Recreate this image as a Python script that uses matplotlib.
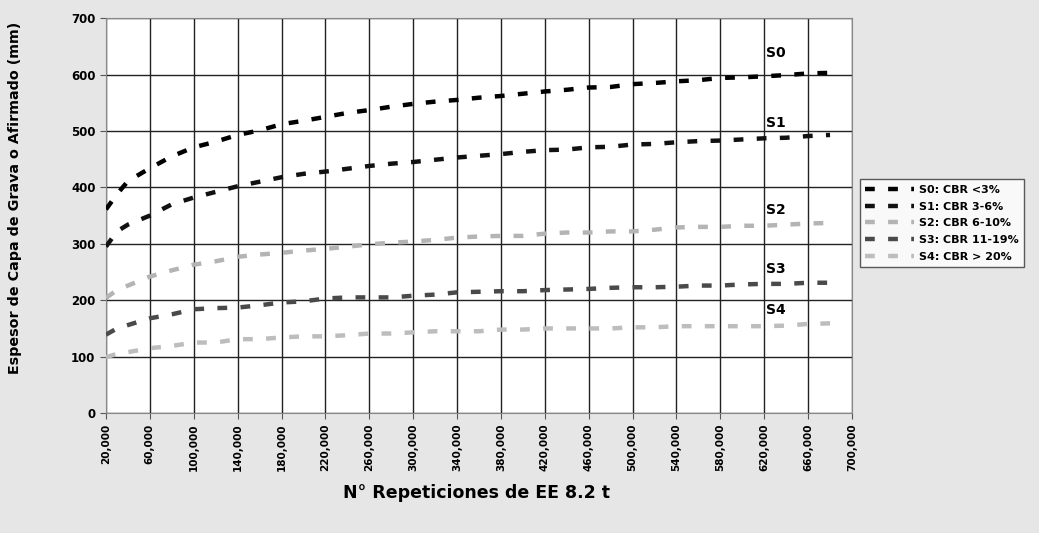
import numpy as np
import matplotlib.pyplot as plt
from matplotlib.ticker import FuncFormatter

# Number of EE 8.2 t repetitions
reps = [20000, 30000, 40000, 60000, 80000, 100000, 120000, 140000, 160000, 180000,
        200000, 220000, 240000, 260000, 280000, 300000, 320000, 340000, 360000,
        380000, 400000, 420000, 440000, 460000, 480000, 500000, 520000, 540000,
        560000, 580000, 600000, 620000, 640000, 660000, 680000]

# Gravel layer thickness (mm) per subgrade class
s0 = [361, 388, 411, 434, 455, 471, 481, 493, 501, 512, 518, 525, 532, 537, 543, 548, 552, 555,
      559, 562, 566, 570, 573, 577, 578, 583, 585, 588, 590, 594, 595, 597, 599, 602, 603]
s1 = [295, 322, 334, 350, 370, 382, 392, 402, 410, 418, 424, 428, 433, 438, 442, 445, 449, 453,
      456, 459, 463, 466, 467, 471, 472, 476, 477, 480, 482, 483, 485, 487, 488, 491, 493]
s2 = [204, 218, 226, 242, 253, 263, 269, 277, 281, 284, 288, 291, 295, 299, 302, 304, 307, 311,
      313, 314, 314, 318, 320, 320, 322, 322, 325, 329, 330, 330, 332, 332, 334, 336, 337]
s3 = [139, 150, 156, 168, 175, 184, 186, 187, 191, 196, 198, 203, 205, 205, 205, 208, 210, 214,
      215, 216, 216, 218, 219, 220, 222, 223, 223, 224, 226, 226, 228, 229, 229, 231, 231]
s4 = [99, 105, 108, 115, 119, 125, 125, 131, 131, 134, 136, 136, 138, 141, 141, 143, 145, 145,
      145, 148, 148, 150, 150, 150, 150, 152, 152, 154, 154, 154, 154, 154, 155, 158, 159]

series = [s0, s1, s2, s3, s4]
labels = ['S0: CBR <3%', 'S1: CBR 3-6%', 'S2: CBR 6-10%', 'S3: CBR 11-19%', 'S4: CBR > 20%']
colors = ['#000000', '#111111', '#b4b4b4', '#4a4a4a', '#bdbdbd']
tags = ['S0', 'S1', 'S2', 'S3', 'S4']
tag_y = [638, 515, 360, 256, 183]

xticks = list(range(20000, 700001, 40000))

fig = plt.figure(figsize=(10.39, 5.33), dpi=100, facecolor='#e6e6e6')
ax = fig.add_axes([0.102, 0.225, 0.718, 0.741])
ax.set_facecolor('white')

for vals, lab, col in zip(series, labels, colors):
    ax.plot(reps, vals, color=col, lw=3.2, dashes=(2.2, 3.0),
            dash_capstyle='butt', label=lab, zorder=3)

for t, ty in zip(tags, tag_y):
    ax.text(622000, ty, t, fontsize=10, fontweight='bold', ha='left', va='center')

ax.set_xlim(20000, 700000)
ax.set_ylim(0, 700)
ax.set_xticks(xticks)
ax.set_yticks(range(0, 701, 100))
ax.xaxis.set_major_formatter(FuncFormatter(lambda v, p: f'{int(v):,}'))
ax.tick_params(axis='x', labelrotation=90, labelsize=7.5, length=4, color='#555')
ax.tick_params(axis='y', labelsize=8.5, length=4, color='#555')
for lab in ax.get_xticklabels() + ax.get_yticklabels():
    lab.set_fontweight('bold')

ax.grid(True, color='#222222', lw=1.0, zorder=1)
for sp in ax.spines.values():
    sp.set_color('#888888')

fig.text(0.459, 0.075, 'N° Repeticiones de EE 8.2 t', fontsize=12.5,
         fontweight='bold', ha='center', va='center')
ax.set_ylabel('Espesor de Capa de Grava o Afirmado (mm)', fontsize=10.3,
              fontweight='bold')
ax.yaxis.set_label_coords(-0.112, 0.545)

leg = fig.legend(loc='upper left', bbox_to_anchor=(0.822, 0.674), fontsize=8,
                 handlelength=4.4, handletextpad=0.4, labelspacing=0.6,
                 frameon=True, fancybox=False, edgecolor='#333333',
                 borderpad=0.5)
leg.get_frame().set_linewidth(1.0)
for t in leg.get_texts():
    t.set_fontweight('bold')

fig.savefig('out.png', dpi=100, facecolor=fig.get_facecolor())
